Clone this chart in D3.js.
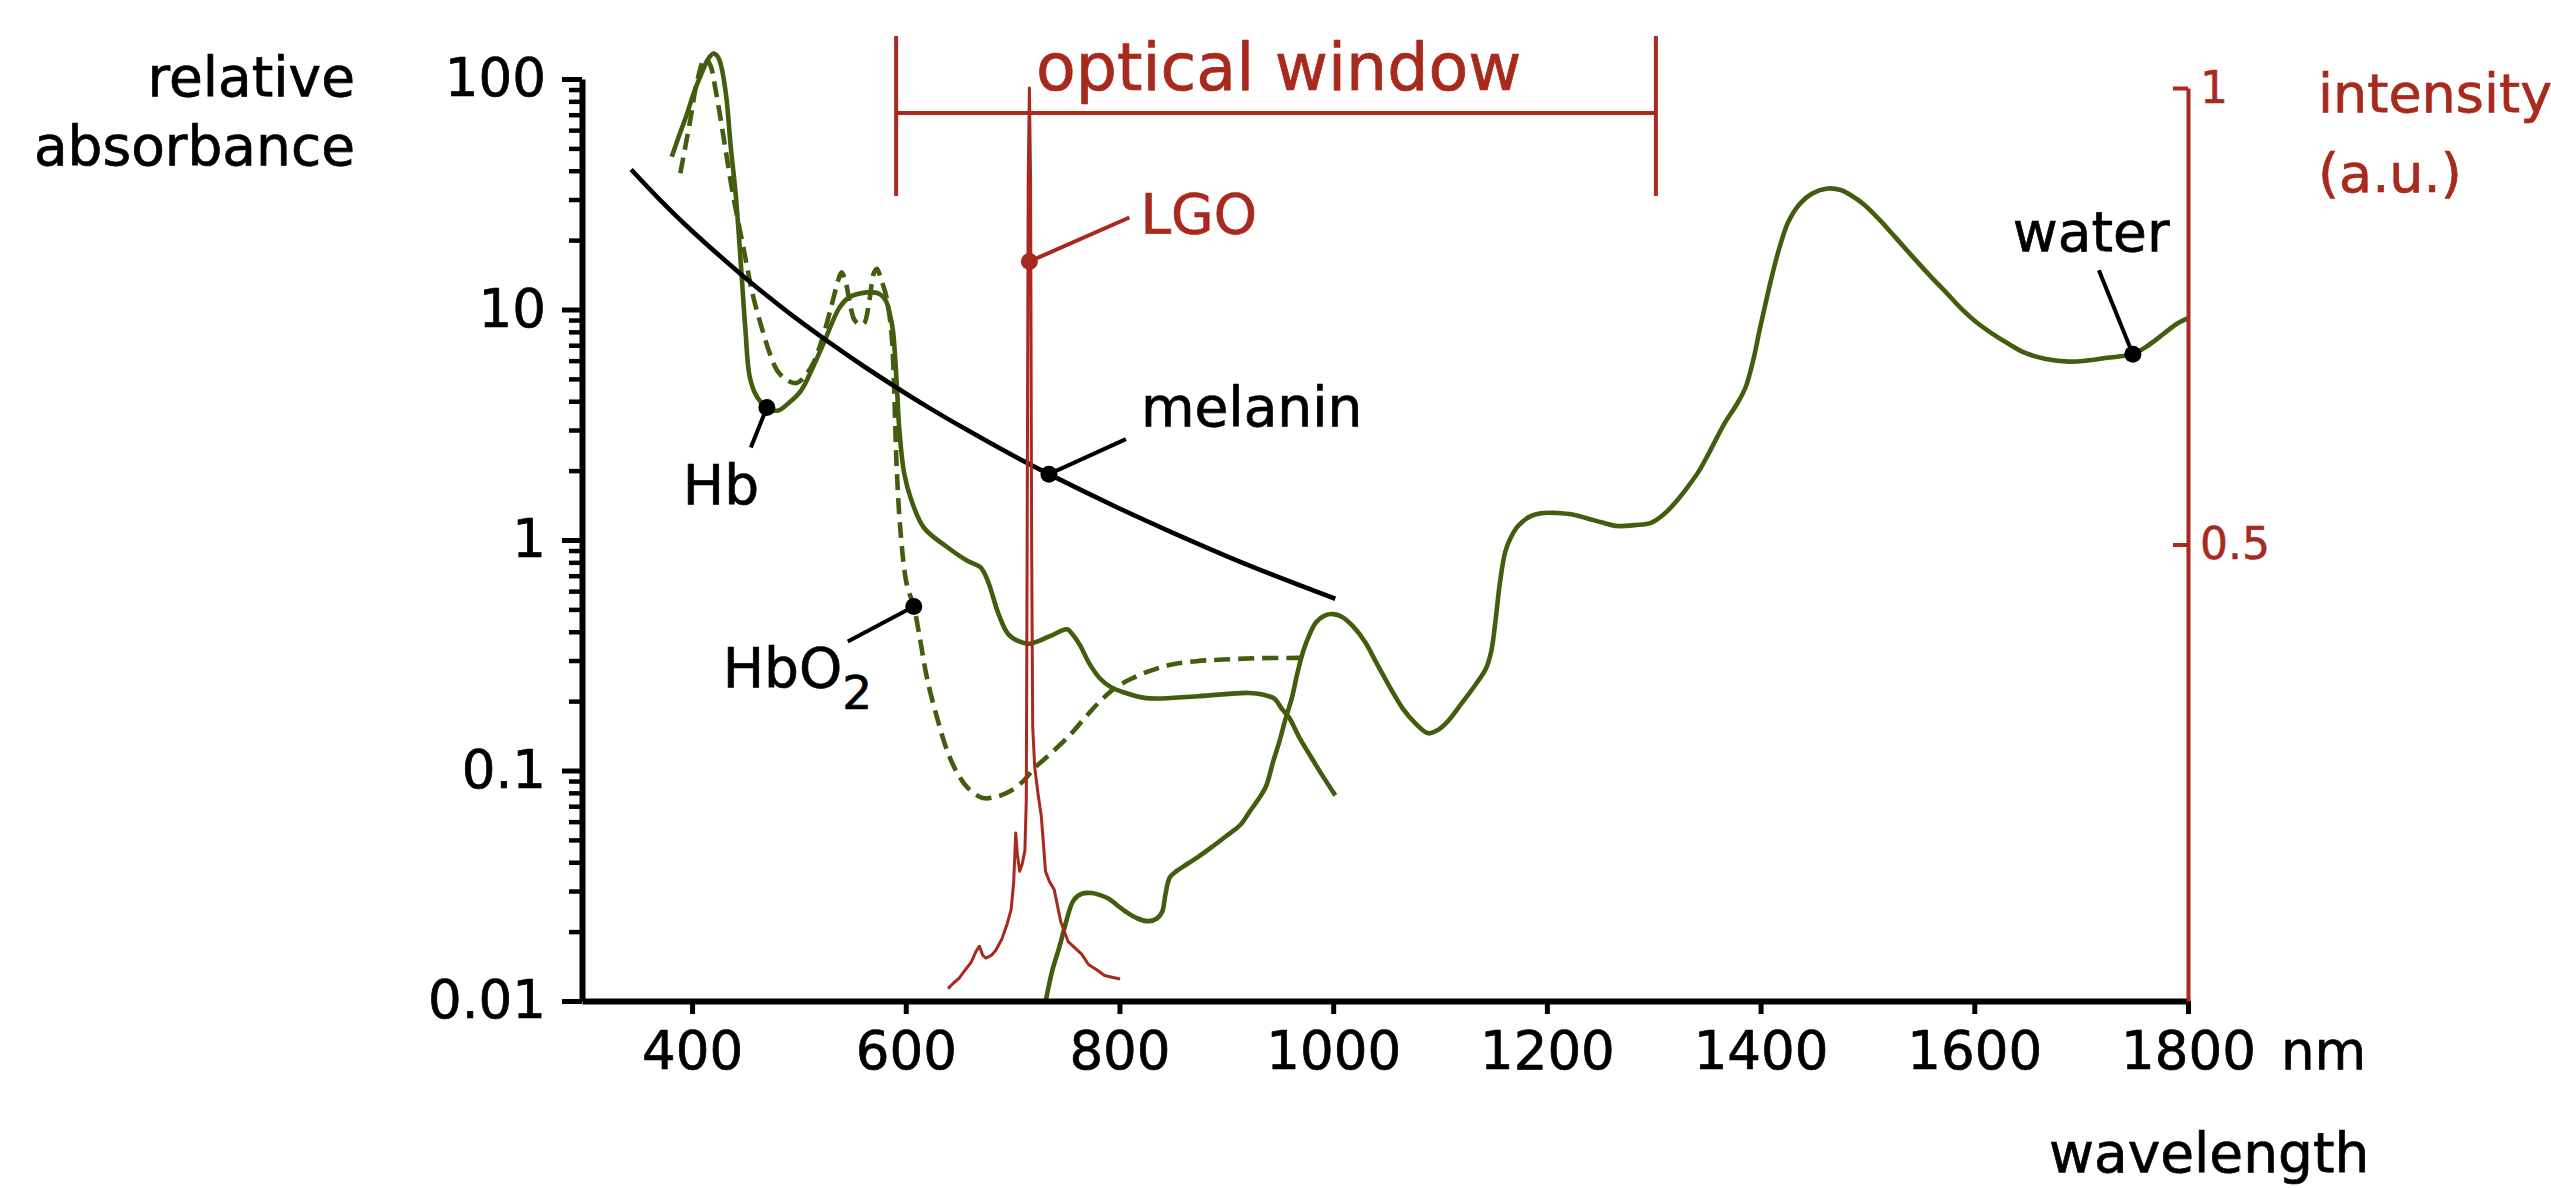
<!DOCTYPE html>
<html><head><meta charset="utf-8">
<script src="https://cdn.jsdelivr.net/npm/d3@7"></script>
<style>html,body{margin:0;padding:0;background:#fff;} svg{display:block;}</style>
</head><body>
<svg id="chart" width="2551" height="1188"></svg>
<script>
// ---------------- data ----------------
const xTicks = [400, 600, 800, 1000, 1200, 1400, 1600, 1800];
const yTicks = [0.01, 0.1, 1, 10, 100];
const yTickLabels = ["0.01", "0.1", "1", "10", "100"];
const rightTicks = [0.5, 1];
const rightTickLabels = ["0.5", "1"];
const opticalWindow = [591, 1302];

// [wavelength nm, relative absorbance]
const hbDeoxy = [[381,46],[388,57],[395,70],[402,88],[409,106],[415,122],[420,129],[424,125],[427,115],[432,84],[436,52],[441,31],[446,15],[450,8.1],[454,5.1],[461,4.16],[470,3.76],[480,3.64],[491,3.95],[502,4.45],[513,5.6],[524,7.3],[538,10.2],[547,11.3],[556,11.7],[566,11.9],[575,11.7],[581,11],[585,9.6],[588,8.1],[591.5,4.8],[594,3.0],[598.5,1.95],[605,1.5],[617,1.13],[639,0.93],[658,0.81],[670,0.76],[677,0.66],[687,0.475],[696,0.39],[705,0.365],[716,0.355],[735,0.383],[751,0.41],[756,0.39],[763,0.35],[772,0.29],[782,0.25],[792,0.23],[802,0.22],[825,0.206],[873,0.21],[921,0.217],[935,0.213],[945,0.205],[952,0.185],[959,0.169],[968,0.14],[978,0.117],[990,0.095],[1002,0.078]];

const hbOxy = [[389,39],[398,65],[405,99],[412,123],[417,115],[422,90],[430,54],[438,32],[448,18.6],[457,11.5],[466,8.1],[473,6.4],[480,5.4],[490,4.9],[498,4.8],[505,5.1],[513,5.8],[522,7.5],[531,10.6],[537,13.5],[540,14.5],[544,13],[548,10.5],[552,9],[557,8.6],[561,8.7],[566,11],[570,14.3],[573,15],[577,13.5],[582,11.3],[586.7,7.8],[589,4.75],[591.5,2.06],[595.3,1.06],[601,0.64],[607.5,0.515],[613,0.38],[620,0.25],[630,0.165],[639,0.121],[648,0.098],[658,0.084],[672,0.076],[685,0.077],[697,0.081],[710,0.09],[720,0.102],[737,0.12],[754,0.143],[768,0.17],[782,0.2],[797,0.23],[811,0.25],[830,0.272],[849,0.288],[872,0.298],[897,0.303],[930,0.307],[969,0.308]];

const water = [[731,0.01],[737,0.0135],[744,0.0173],[750,0.022],[757,0.0273],[765,0.0292],[774,0.0294],[782,0.0288],[790,0.0278],[798,0.026],[806,0.0244],[817,0.0228],[827,0.0222],[835,0.0228],[840,0.0244],[843,0.029],[847,0.0343],[853,0.0365],[860,0.0384],[873,0.042],[886,0.0464],[900,0.052],[913,0.058],[922,0.0665],[930,0.075],[937,0.085],[944,0.11],[950,0.135],[955,0.165],[961,0.204],[967,0.27],[972,0.33],[978,0.39],[984,0.44],[992,0.47],[1000,0.477],[1008,0.465],[1018,0.425],[1030,0.36],[1041,0.29],[1053,0.23],[1065,0.186],[1077,0.16],[1089,0.145],[1098,0.15],[1107,0.163],[1120,0.195],[1133,0.235],[1143,0.277],[1148,0.33],[1152,0.45],[1156,0.65],[1161,0.887],[1166,1.02],[1173,1.15],[1185,1.27],[1197,1.31],[1209,1.31],[1224,1.29],[1238,1.24],[1252,1.19],[1266,1.15],[1282,1.16],[1298,1.19],[1310,1.3],[1320,1.45],[1331,1.68],[1342,1.98],[1352,2.4],[1366,3.19],[1378,3.9],[1386,4.6],[1393,6.0],[1399,8.1],[1405,10.8],[1411,14.2],[1418,18.8],[1426,24],[1436,28.5],[1448,31.8],[1463,33.5],[1475,33],[1486,31],[1497,28.5],[1511,24.6],[1526,20.6],[1542,17],[1558,14.1],[1574,11.8],[1589,9.96],[1602,8.8],[1616,7.9],[1632,7.1],[1647,6.5],[1667,6.1],[1688,5.94],[1705,6.0],[1724,6.17],[1748,6.4],[1763,7.0],[1778,7.9],[1790,8.7],[1801,9.2]];

const melanin = [[343,40.5],[370,29.9],[400,21.9],[446,14.2],[470,11.5],[494,9.4],[527,7.27],[560,5.7],[589,4.66],[620,3.79],[658,2.99],[700,2.33],[734,1.93],[800,1.37],[849,1.08],[920,0.78],[1002,0.556]];

// LGO emission spectrum [wavelength nm, intensity a.u.]
const lgo = [[639.5,0.0136],[645,0.02],[650,0.025],[655.6,0.034],[661,0.042],[666,0.055],[669,0.06],[672,0.05],[675,0.047],[680,0.05],[684,0.055],[690,0.068],[695,0.085],[698.6,0.1],[701,0.13],[702.9,0.184],[704.5,0.16],[706.6,0.142],[709,0.15],[711.5,0.165],[712.8,0.22],[713.6,0.5],[714.6,0.9],[715.7,1.0],[716.8,0.9],[717.8,0.5],[718.8,0.3],[720.7,0.256],[724,0.225],[726.8,0.203],[730.8,0.142],[734.4,0.131],[738.9,0.122],[745,0.087],[752,0.065],[764.8,0.051],[771,0.04],[779,0.034],[786,0.028],[793,0.026],[800.6,0.024]];

// annotation anchor points
const hbMark = [470, 3.76];
const hbOxyMark = [607.5, 0.515];
const melaninMark = [734, 1.93];
const waterMark = [1748.4, 6.4];
const lgoMark = [715.7, 0.81];

// ---------------- drawing ----------------
const FONT = "DejaVu Sans";
const GREEN = "#435d0f";
const RED = "#a8291d";

const svg = d3.select("#chart");
svg.append("rect").attr("width", 2551).attr("height", 1188).attr("fill", "#fff");

const x = d3.scaleLinear().domain([297, 1800]).range([582, 2188]);
const y = d3.scaleLog().domain([0.01, 100]).range([1001, 79]);
const yR = d3.scaleLinear().domain([0, 1]).range([1001, 88]);

const line = d3.line().x(d => x(d[0])).y(d => y(d[1])).curve(d3.curveCatmullRom.alpha(0.5));
const lineR = d3.line().x(d => x(d[0])).y(d => yR(d[1])).curve(d3.curveLinear);

// optical window bracket
const br = svg.append("g").attr("stroke", RED).attr("stroke-width", 4).attr("fill", "none");
br.append("line").attr("x1", x(opticalWindow[0])).attr("x2", x(opticalWindow[0])).attr("y1", 36).attr("y2", 196);
br.append("line").attr("x1", x(opticalWindow[1])).attr("x2", x(opticalWindow[1])).attr("y1", 36).attr("y2", 196);
br.append("line").attr("x1", x(opticalWindow[0])).attr("x2", x(opticalWindow[1])).attr("y1", 113).attr("y2", 113);

svg.append("text").attr("x", 1036).attr("y", 90).attr("font-family", FONT).attr("font-size", 65)
  .attr("fill", RED).attr("stroke", RED).attr("stroke-width", 0.7).text("optical window");

// curves
const LW = 4.6;
svg.append("path").datum(water).attr("d", line).attr("fill", "none").attr("stroke", GREEN).attr("stroke-width", LW);
svg.append("path").datum(hbDeoxy).attr("d", line).attr("fill", "none").attr("stroke", GREEN).attr("stroke-width", LW);
svg.append("path").datum(hbOxy).attr("d", line).attr("fill", "none").attr("stroke", GREEN).attr("stroke-width", LW)
  .attr("stroke-dasharray", "16,8");
svg.append("path").datum(melanin).attr("d", line).attr("fill", "none").attr("stroke", "#000").attr("stroke-width", LW);
svg.append("path").datum(lgo).attr("d", lineR).attr("fill", "none").attr("stroke", RED).attr("stroke-width", 3)
  .attr("stroke-linejoin", "round");

// axes
const axX = svg.append("g").attr("transform", "translate(0,1001)")
  .call(d3.axisBottom(x).tickValues(xTicks).tickSizeInner(13).tickSizeOuter(0).tickPadding(17).tickFormat(d3.format("d")));
axX.select(".domain").attr("stroke-width", 6);
axX.selectAll(".tick line").attr("stroke-width", 5);
axX.selectAll("text").attr("font-family", FONT).attr("font-size", 53).attr("fill", "#000").attr("stroke", "#000").attr("stroke-width", 0.7);

const minor = [];
for (let e = -2; e < 2; e++) for (let m = 2; m <= 9; m++) minor.push(m * Math.pow(10, e));
const axYm = svg.append("g").attr("transform", "translate(582,0)")
  .call(d3.axisLeft(y).tickValues(minor).tickSizeInner(13).tickSizeOuter(0).tickFormat(""));
axYm.select(".domain").remove();
axYm.selectAll(".tick line").attr("stroke-width", 4.5);

const axY = svg.append("g").attr("transform", "translate(582,0)")
  .call(d3.axisLeft(y).tickValues(yTicks).tickSizeInner(20).tickSizeOuter(0).tickPadding(16)
    .tickFormat((d, i) => yTickLabels[i]));
axY.select(".domain").attr("stroke-width", 6);
axY.selectAll(".tick line").attr("stroke-width", 5);
axY.selectAll("text").attr("font-family", FONT).attr("font-size", 53).attr("fill", "#000").attr("stroke", "#000").attr("stroke-width", 0.7);

const axR = svg.append("g").attr("transform", "translate(2188,0)")
  .call(d3.axisRight(yR).tickValues(rightTicks).tickSizeInner(-15).tickSizeOuter(0).tickPadding(12)
    .tickFormat((d, i) => rightTickLabels[i]));
axR.select(".domain").attr("stroke", RED).attr("stroke-width", 4);
axR.selectAll(".tick line").attr("stroke", RED).attr("stroke-width", 4);
axR.selectAll("text").attr("font-family", FONT).attr("font-size", 44).attr("fill", RED).attr("stroke", RED).attr("stroke-width", 0.5);

// axis titles
const t = (xx, yy, s, opt = {}) => svg.append("text").attr("x", xx).attr("y", yy)
  .attr("font-family", FONT).attr("font-size", opt.size || 55).attr("fill", opt.fill || "#000")
  .attr("stroke", opt.fill || "#000").attr("stroke-width", 0.7)
  .attr("text-anchor", opt.anchor || "start").text(s);
t(355, 96, "relative", {anchor: "end"});
t(355, 165, "absorbance", {anchor: "end"});
t(2281, 1069, "nm", {size: 53});
t(2049, 1172, "wavelength");
t(2318, 112, "intensity", {fill: RED, size: 54});
t(2318, 192, "(a.u.)", {fill: RED, size: 54});

// annotations
function mark(px, py, lx, ly, color) {
  svg.append("line").attr("x1", px).attr("y1", py).attr("x2", lx).attr("y2", ly)
    .attr("stroke", color).attr("stroke-width", 4);
  svg.append("circle").attr("cx", px).attr("cy", py).attr("r", 8.5).attr("fill", color);
}
let px = x(hbMark[0]), py = y(hbMark[1]);
mark(px, py, px - 16, py + 40, "#000");
t(px - 84, py + 97, "Hb");

px = x(melaninMark[0]); py = y(melaninMark[1]);
mark(px, py, px + 77, py - 35, "#000");
t(px + 92, py - 48, "melanin");

px = x(hbOxyMark[0]); py = y(hbOxyMark[1]);
mark(px, py, px - 66, py + 35, "#000");
const ho = svg.append("text").attr("x", px - 191).attr("y", py + 81).attr("font-family", FONT).attr("font-size", 55)
  .attr("fill", "#000").attr("stroke", "#000").attr("stroke-width", 0.7);
ho.append("tspan").text("HbO");
ho.append("tspan").attr("font-size", 47).attr("dy", 22).text("2");

px = x(waterMark[0]); py = y(waterMark[1]);
mark(px, py, px - 34, py - 84, "#000");
t(px - 120, py - 103, "water");

px = x(lgoMark[0]); py = yR(lgoMark[1]);
mark(px, py, px + 100, py - 44, RED);
t(px + 111, py - 28, "LGO", {fill: RED, size: 55});
</script>
</body></html>
